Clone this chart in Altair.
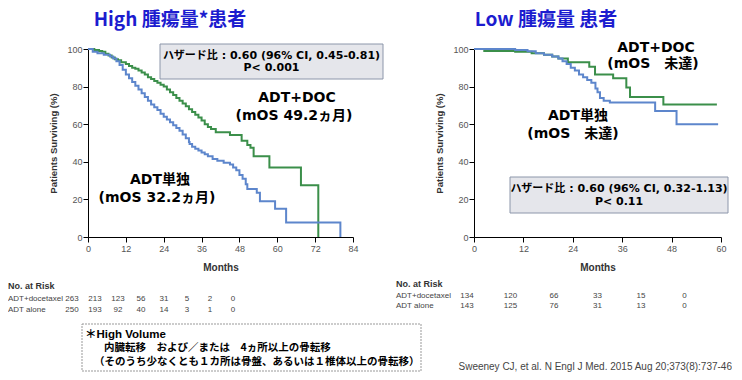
import altair as alt
import pandas as pd

# ---------------- data ----------------
# High volume panel (months, % surviving)
hi_doc_m = [0, 2, 3.5, 4.5, 5.5, 6.5, 7.5, 8.5, 9.5, 10.5, 12, 13, 14, 15, 16, 17, 18, 19, 20, 21, 22, 23, 24,
            25, 26, 27, 28, 29, 30, 31, 32, 33, 34, 35, 36, 37, 38, 39, 40.5, 45, 48.7, 50.5, 51.5, 52.5,
            57.5, 67.5, 73]
hi_doc_s = [100, 99.5, 99, 98.5, 97.5, 96.5, 95.5, 94.5, 94, 93, 92, 91, 90, 89.5, 88.5, 87.5, 86.5, 85, 84,
            83, 82, 81, 80, 78.5, 77, 75.5, 74, 72.5, 71, 69.5, 68, 66.5, 65, 63.5, 62, 60, 58.5, 57.5, 55.7,
            54.2, 51.2, 49, 47.5, 43, 37, 27.5, 0]
hi_adt_m = [0, 1.5, 3, 5, 7, 8, 9, 10, 11, 12, 13, 14, 15, 16, 17, 18, 19, 20, 21, 22, 23, 24, 25, 26, 27,
            28, 29, 30, 31, 32, 32.2, 33, 34, 35, 36, 37, 38, 39.5, 41, 43, 45, 46, 47, 48, 49, 50, 50.5,
            53.5, 54.5, 59.3, 62.8, 80]
hi_adt_s = [100, 98.5, 97.7, 97, 96, 95, 93.5, 91.5, 89, 86.5, 84.5, 82.5, 80.5, 78.5, 76.5, 74.5, 72.5,
            70.5, 69, 67.5, 65.5, 64, 62.5, 61, 59.5, 58, 56.5, 54.5, 52.5, 50.5, 49.5, 48, 47, 46, 45, 44,
            43, 41.5, 40.5, 39.5, 38.5, 37, 35.5, 33, 31, 28, 25.5, 23.5, 19, 15, 7.7, 0]

# Low volume panel
lo_doc_m = [0, 2.5, 10, 14, 17, 19, 20.5, 22.8, 28, 29.4, 33.8, 37, 37.9, 46, 59]
lo_doc_s = [100, 99, 98.5, 97.8, 97, 96, 95, 93, 90.5, 86.5, 84.5, 79.5, 74.5, 70.5, 70.5]
lo_adt_m = [0, 10, 13, 15, 17, 19, 20.5, 21.5, 22.5, 23.5, 24.5, 25.5, 26.5, 27.5, 28.5, 29.5, 30, 30.6,
            31.5, 33, 44, 49.2, 59.3]
lo_adt_s = [100, 99.5, 98.8, 97.8, 97, 96, 95, 93.5, 92, 90, 88.5, 86.5, 85, 83.5, 82, 79, 77, 74, 72.5,
            71.5, 67, 60, 60]

arms = ["ADT+DOC", "ADT単独"]
hi_ticks = [0, 12, 24, 36, 48, 60, 72, 84]
lo_ticks = [0, 12, 24, 36, 48, 60]
y_ticks = [0, 20, 40, 60, 80, 100]

risk_rows = ["ADT+docetaxel", "ADT alone"]
hi_risk_doc = [263, 213, 123, 56, 31, 5, 2, 0]
hi_risk_adt = [250, 193, 92, 40, 14, 3, 1, 0]
lo_risk_doc = [134, 120, 66, 33, 15, 0]
lo_risk_adt = [143, 125, 76, 31, 13, 0]

hi_title = "High 腫瘍量*患者"
lo_title = "Low 腫瘍量 患者"
hi_hr = ["ハザード比 : 0.60 (96% CI, 0.45-0.81)", "P< 0.001"]
lo_hr = ["ハザード比 : 0.60 (96% CI, 0.32-1.13)", "P< 0.11"]
hi_doc_lab = ["ADT+DOC", "(mOS 49.2ヵ月)"]
hi_adt_lab = ["ADT単独", "(mOS 32.2ヵ月)"]
lo_doc_lab = ["ADT+DOC", "(mOS　未達)"]
lo_adt_lab = ["ADT単独", "(mOS　未達)"]
foot_lines = ["＊High Volume", "内臓転移　および／または　4ヵ所以上の骨転移",
              "（そのうち少なくとも１カ所は骨盤、あるいは１椎体以上の骨転移）"]
citation = "Sweeney CJ, et al. N Engl J Med. 2015 Aug 20;373(8):737-46"

# ---------------- style ----------------
GREEN = "#3b8f4a"
BLUE = "#5d86cc"
TITLE_BLUE = "#1c1ccf"
NARROW = "Liberation Sans Narrow, Liberation Sans, sans-serif"
MIX = "DejaVu Sans, Noto Sans CJK JP, sans-serif"
LATJP = "Liberation Sans, Noto Sans CJK JP, sans-serif"
JP = "Noto Sans CJK JP, sans-serif"


def km_df(doc_m, doc_s, adt_m, adt_s):
    return pd.concat([
        pd.DataFrame({"month": doc_m, "surv": doc_s, "arm": arms[0]}),
        pd.DataFrame({"month": adt_m, "surv": adt_s, "arm": arms[1]}),
    ])


def text_layer(s, x, y, size, bold=True, color="black", font=MIX, align="center"):
    return alt.Chart(pd.DataFrame({"t": [s]})).mark_text(
        font=font, fontSize=size, fontWeight="bold" if bold else "normal", color=color,
        align=align, baseline="middle").encode(text="t:N", x=alt.value(x), y=alt.value(y))


def box_layer(x1, x2, y1, y2, fill, stroke, dash=None):
    kw = dict(fill=fill, stroke=stroke, strokeWidth=1)
    if dash:
        kw["strokeDash"] = dash
    return alt.Chart(pd.DataFrame({"k": [0]})).mark_rect(**kw).encode(
        x=alt.value(x1), x2=alt.value(x2), y=alt.value(y1), y2=alt.value(y2))


def risk_layers(doc_vals, adt_vals, x_lab, y_head, x0, step, y0, ystep, size=8):
    n = len(doc_vals)
    df = pd.DataFrame({
        "row": [0] * n + [1] * n,
        "i": list(range(n)) * 2,
        "v": [str(v) for v in doc_vals] + [str(v) for v in adt_vals],
    })
    vals = alt.Chart(df).transform_calculate(
        px=f"{x0} + datum.i * {step}", py=f"{y0} + datum.row * {ystep}"
    ).mark_text(font=NARROW, fontSize=size, color="#444", align="center", baseline="middle").encode(
        x=alt.X("px:Q", scale=None, axis=None), y=alt.Y("py:Q", scale=None, axis=None), text="v:N")
    labs = alt.Chart(pd.DataFrame({"row": [0, 1], "t": risk_rows})).transform_calculate(
        py=f"{y0} + datum.row * {ystep}"
    ).mark_text(font=NARROW, fontSize=size, color="#444", align="left", baseline="middle").encode(
        x=alt.value(x_lab), y=alt.Y("py:Q", scale=None, axis=None), text="t:N")
    head = text_layer("No. at Risk", x_lab, y_head, 9, bold=True, color="#333", font=NARROW, align="left")
    return [vals, labs, head]


def km_layer(df, maxm, ticks, w, h):
    return alt.Chart(df).mark_line(interpolate="step-after", strokeWidth=2).encode(
        x=alt.X("month:Q", scale=alt.Scale(domain=[0, maxm], nice=False),
                axis=alt.Axis(values=ticks, title="Months", grid=False, domainColor="black",
                              tickColor="black", tickSize=5, labelColor="#555", labelFontSize=9,
                              labelFont=NARROW, labelFlush=False, labelPadding=2,
                              titleFont=NARROW, titleFontSize=10, titleFontWeight="bold",
                              titleColor="#333", titlePadding=9)),
        y=alt.Y("surv:Q", scale=alt.Scale(domain=[0, 100], nice=False),
                axis=alt.Axis(values=y_ticks, title="Patients Surviving (%)", grid=False,
                              domainColor="black", tickColor="black", tickSize=5, labelColor="#555",
                              labelFontSize=9, labelFont=NARROW, labelPadding=1,
                              titleFont=NARROW, titleFontSize=9.5, titleFontWeight="bold",
                              titleColor="#333", titlePadding=8)),
        color=alt.Color("arm:N", scale=alt.Scale(domain=arms, range=[GREEN, BLUE]), legend=None),
        order=alt.Order("month:Q"),
    ).properties(width=w, height=h)


W1, W2, H = 265, 247, 188

left = alt.layer(
    km_layer(km_df(hi_doc_m, hi_doc_s, hi_adt_m, hi_adt_s), 84, hi_ticks, W1, H),
    text_layer(hi_title, 82, -29.5, 19, color=TITLE_BLUE, font=JP),
    box_layer(72, 295, -5, 30, "#e5e6eb", "#8c96aa"),
    text_layer(hi_hr[0], 183.5, 7, 11, font=MIX),
    text_layer(hi_hr[1], 183.5, 19, 11, font=MIX),
    text_layer(hi_doc_lab[0], 209, 49, 14),
    text_layer(hi_doc_lab[1], 206, 67, 14),
    text_layer(hi_adt_lab[0], 72, 131, 14),
    text_layer(hi_adt_lab[1], 69, 149, 14),
    *risk_layers(hi_risk_doc, hi_risk_adt, -80, 237, -16, 23, 250, 11),
    box_layer(-6, 333, 275, 322, "white", "#999", dash=[2, 1]),
    text_layer(foot_lines[0], -3, 285.5, 11.5, font=LATJP, align="left"),
    text_layer(foot_lines[1], 16, 299, 10.5, font=JP, align="left"),
    text_layer(foot_lines[2], 6, 312.5, 10.5, font=JP, align="left"),
).properties(width=W1, height=H)

right = alt.layer(
    km_layer(km_df(lo_doc_m, lo_doc_s, lo_adt_m, lo_adt_s), 60, lo_ticks, W2, H),
    text_layer(lo_title, 72, -29.5, 19, color=TITLE_BLUE, font=JP),
    text_layer(lo_doc_lab[0], 182, -1, 14),
    text_layer(lo_doc_lab[1], 179, 15, 14),
    text_layer(lo_adt_lab[0], 104, 67, 14),
    text_layer(lo_adt_lab[1], 99, 85, 14),
    box_layer(36, 254, 128, 164, "#e5e6eb", "#8c96aa"),
    text_layer(lo_hr[0], 145, 140, 11, font=MIX),
    text_layer(lo_hr[1], 145, 153, 11, font=MIX),
    *risk_layers(lo_risk_doc, lo_risk_adt, -78, 235, -7, 43.5, 247, 10),
    text_layer(citation, 258, 318, 10, bold=False, color="#444", font="Liberation Sans, sans-serif",
               align="right"),
).properties(width=W2, height=H)

chart = alt.hconcat(left, right, spacing=121, bounds="flush").properties(
    padding={"left": 0, "top": 2, "right": 0, "bottom": 0}, background="white"
).configure_view(stroke=None)

chart.save("out.html", embed_options={"renderer": "svg", "actions": False})
